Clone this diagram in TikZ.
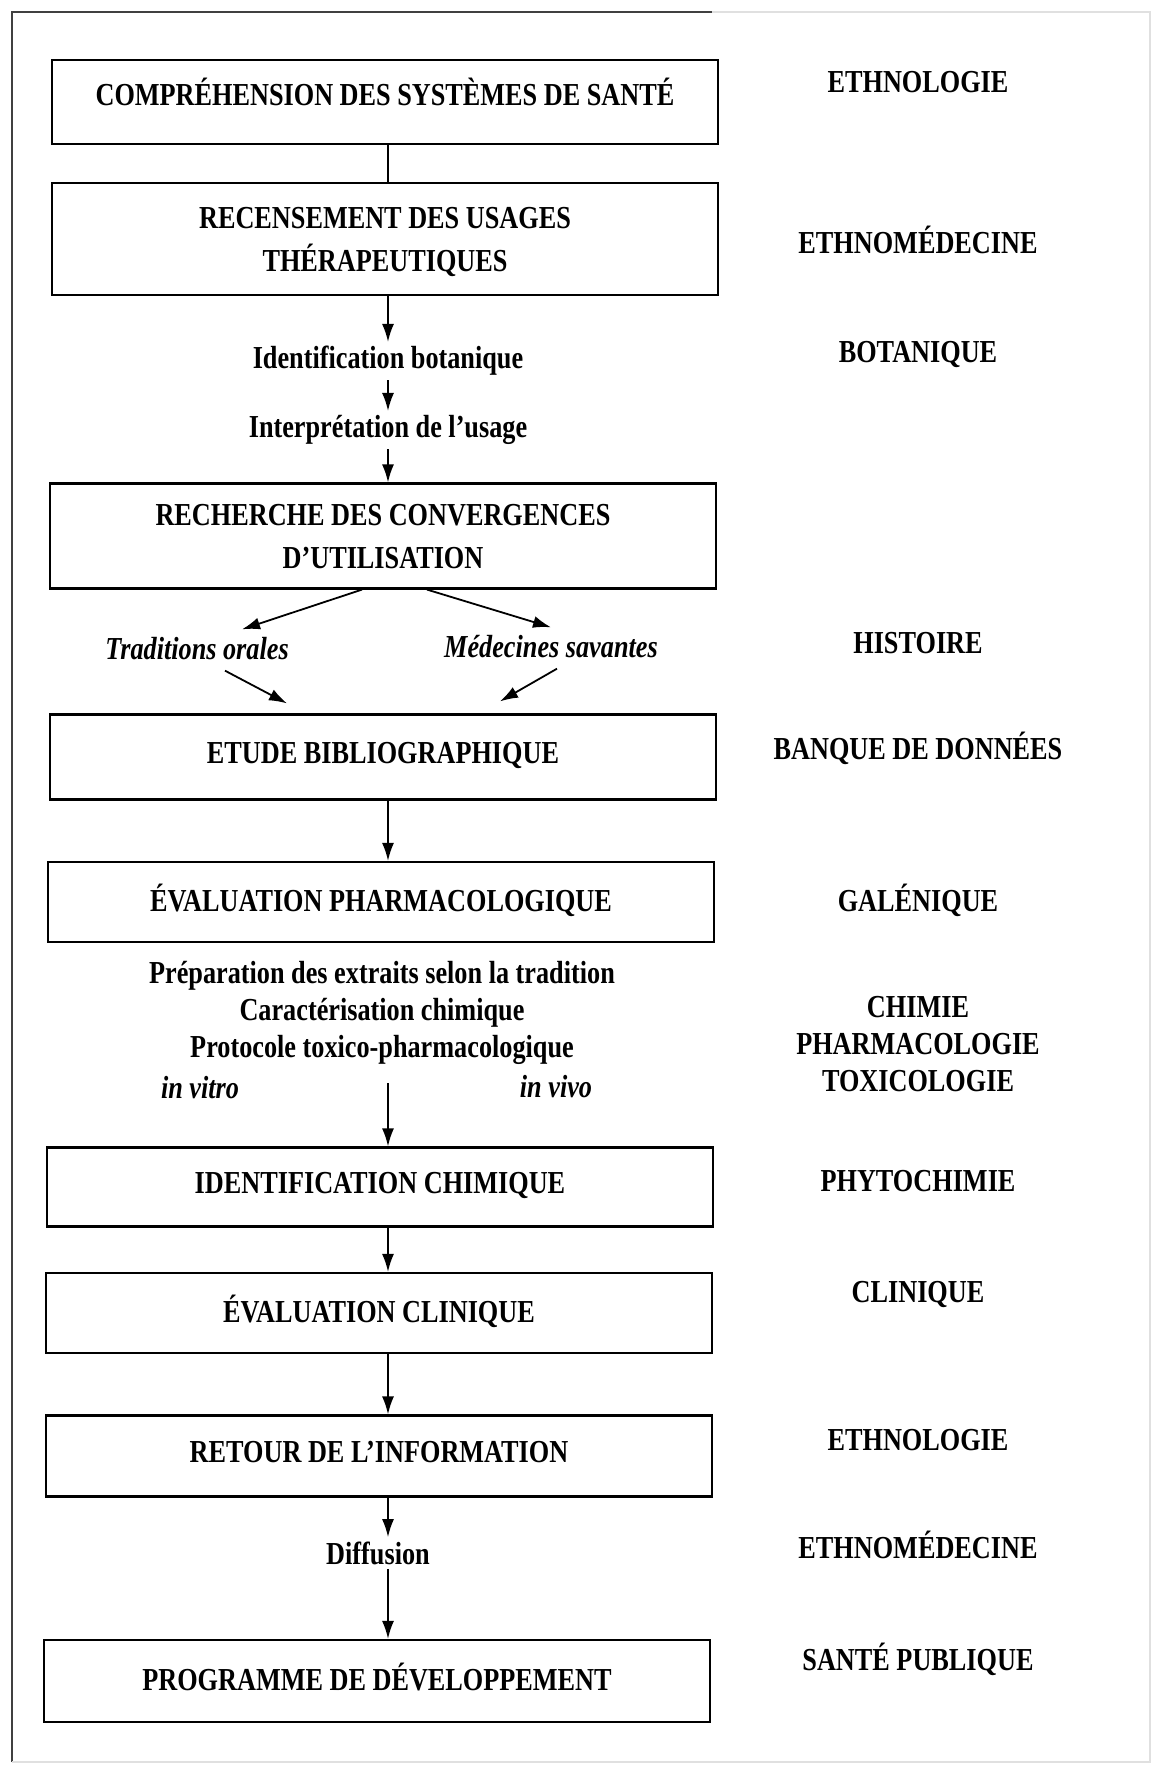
\documentclass[tikz,border=0pt]{standalone}
\usepackage{fontspec}
\setmainfont{Liberation Serif}[FakeStretch=0.82]
\usetikzlibrary{arrows.meta}
\newcommand{\stagefont}{\fontsize{16}{21.5}\selectfont\bfseries}
\newcommand{\notefont}{\fontsize{16}{18.7}\selectfont\bfseries}
\newcommand{\slantfont}{\fontsize{16}{18.7}\selectfont\bfseries\itshape}
\begin{document}
\begin{tikzpicture}[x=0.5pt,y=-0.5pt,
        stage/.style={draw,line width=1.1pt,minimum width=333pt,align=center,font=\stagefont,text depth=4pt},
        note/.style={align=center,font=\notefont,inner sep=2pt},
        slant/.style={align=center,font=\slantfont,inner sep=2pt},
        field/.style={align=center,font=\notefont},
        arr/.style={-{Latex[length=9pt,width=6pt]},line width=0.9pt}]
    \useasboundingbox (0,0) rectangle (1157,1765);
    \draw[line width=0.9pt,black!75] (12,1762) -- (12,12) -- (712,12);
    \draw[line width=0.6pt,black!12] (712,12) -- (1150,12) -- (1150,1762) -- (12,1762);

    \node[stage,minimum height=42pt,text depth=10pt] (b1) at (385,102) {COMPRÉHENSION DES SYSTÈMES DE SANTÉ};
    \node[stage,minimum height=56pt,text depth=0pt] (b2) at (385,239) {RECENSEMENT DES USAGES\\THÉRAPEUTIQUES};
    \node[note] (ident) at (388,361) {Identification botanique};
    \node[note] (interp) at (388,430) {Interprétation de l'usage};
    \node[stage,minimum height=52.5pt,text depth=0pt] (b3) at (383,536) {RECHERCHE DES CONVERGENCES\\D'UTILISATION};
    \node[slant] (trad) at (197,649) {Traditions orales};
    \node[slant] (med) at (551,647) {Médecines savantes};
    \node[stage,minimum height=42.5pt] (b4) at (383,757) {ETUDE BIBLIOGRAPHIQUE};
    \node[stage,minimum height=40pt] (b5) at (381,902) {ÉVALUATION PHARMACOLOGIQUE};
    \node[note] (proto) at (382,1013) {Préparation des extraits selon la tradition\\Caractérisation chimique\\Protocole toxico-pharmacologique};
    \node[slant] (vitro) at (200,1088) {in vitro};
    \node[slant] (vivo) at (556,1087) {in vivo};
    \coordinate (split) at (388,1083);
    \node[stage,minimum height=39.5pt] (b6) at (380,1187) {IDENTIFICATION CHIMIQUE};
    \node[stage,minimum height=40pt] (b7) at (379,1313) {ÉVALUATION CLINIQUE};
    \node[stage,minimum height=40.5pt] (b8) at (379,1456) {RETOUR DE L'INFORMATION};
    \node[note] (diff) at (378,1553) {Diffusion};
    \node[stage,minimum height=41pt] (b9) at (377,1681) {PROGRAMME DE DÉVELOPPEMENT};

    \node[field] (f1) at (918,82) {ETHNOLOGIE};
    \node[field] (f2) at (918,240) {ETHNOMÉDECINE};
    \node[field] (f3) at (918,355) {BOTANIQUE};
    \node[field] (f4) at (918,643) {HISTOIRE};
    \node[field] (f5) at (918,748) {BANQUE DE DONNÉES};
    \node[field] (f6) at (918,900) {GALÉNIQUE};
    \node[field] (f7) at (918,1044) {CHIMIE\\PHARMACOLOGIE\\TOXICOLOGIE};
    \node[field] (f8) at (918,1181) {PHYTOCHIMIE};
    \node[field] (f9) at (918,1294) {CLINIQUE};
    \node[field] (f10) at (918,1440) {ETHNOLOGIE};
    \node[field] (f11) at (918,1545) {ETHNOMÉDECINE};
    \node[field] (f12) at (918,1659) {SANTÉ PUBLIQUE};

    \draw[line width=0.9pt] (b1.south -| ident) -- (b2.north -| ident);
    \draw[arr] (b2.south -| ident) -- (ident);
    \draw[arr] (ident) -- (interp);
    \draw[arr] (interp) -- (b3.north -| interp);
    \draw[arr] ([xshift=-10.5pt]b3.south) -- ([xshift=22.5pt,yshift=2pt]trad.north);
    \draw[arr] ([xshift=22pt]b3.south) -- ([yshift=2pt]med.north);
    \draw[arr] ([xshift=14pt,yshift=-3pt]trad.south) -- ([xshift=-48pt,yshift=5pt]b4.north);
    \draw[arr] ([xshift=3pt,yshift=-3pt]med.south) -- ([xshift=58.5pt,yshift=6pt]b4.north);
    \draw[arr] (b4.south -| ident) -- (b5.north -| ident);
    \draw[arr] (split) -- (b6.north -| split);
    \draw[arr] (b6.south -| split) -- (b7.north -| split);
    \draw[arr] (b7.south -| split) -- (b8.north -| split);
    \draw[arr] (b8.south -| split) -- (diff.north -| split);
    \draw[arr] (diff.south -| split) -- (b9.north -| split);
\end{tikzpicture}
\end{document}
